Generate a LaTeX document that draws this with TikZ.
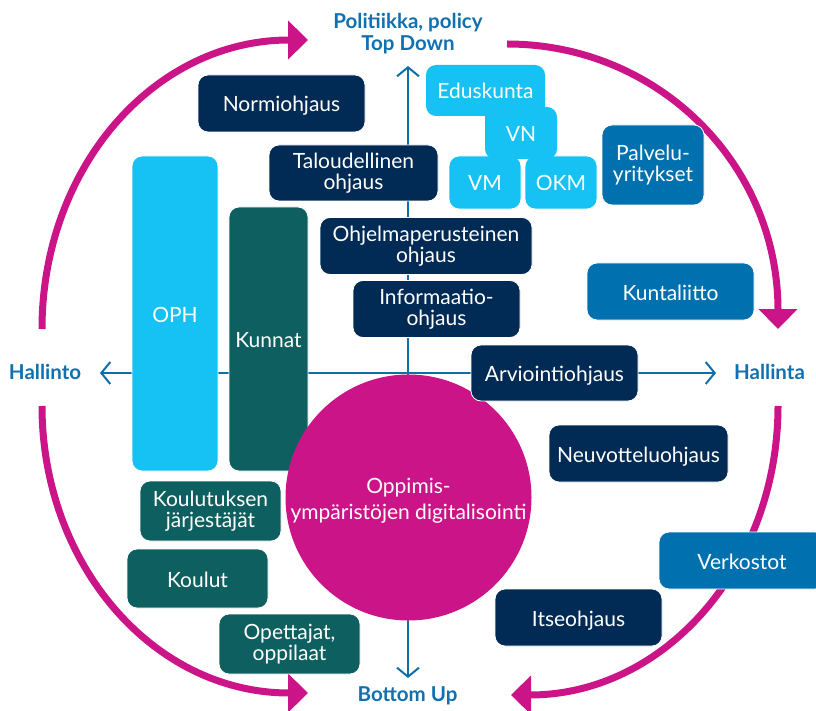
\documentclass[tikz,border=0pt]{standalone}
\usepackage{fontspec}
\setmainfont{Lato}
\usetikzlibrary{arrows.meta}
\definecolor{navy}{HTML}{012A55}
\definecolor{midblue}{HTML}{0071AE}
\definecolor{lightblue}{HTML}{16C1F3}
\definecolor{teal}{HTML}{0E6060}
\definecolor{mag}{HTML}{CC1489}
\definecolor{axisblue}{HTML}{0B6FAA}
\definecolor{labblue}{HTML}{1070B0}
\tikzset{
  box/.style={rounded corners=10pt, text=white, align=center, inner sep=0pt, draw=white, line width=0.8pt},
  oneline/.style={text height=17pt, text depth=0pt},
  navybox/.style={box, fill=navy},
  midbox/.style={box, fill=midblue},
  lightbox/.style={box, fill=lightblue},
  tealbox/.style={box, fill=teal},
  magarc/.style={draw=mag, line width=7pt, -{Triangle[length=20pt,width=38pt]}},
  axis/.style={draw=axisblue, line width=2pt, -{Straight Barb[length=9pt,width=22pt,line width=2pt]}},
  lab/.style={text=labblue, font=\fontsize{20.5}{22}\selectfont\bfseries, align=center, inner sep=0pt},
}
\begin{document}
\begin{tikzpicture}[x=1pt,y=-1pt, font=\fontsize{21}{21}\selectfont]
\useasboundingbox (0,0) rectangle (816,711);

% axes
\coordinate (ctr) at (408,373);
\coordinate (top) at (408,66);
\coordinate (bot) at (408,678);
\coordinate (lft) at (100,373);
\coordinate (rgt) at (716,373);
\draw[axis] (ctr) -- (top);
\draw[axis] (ctr) -- (bot);
\draw[axis] (ctr) -- (lft);
\draw[axis] (ctr) -- (rgt);

% magenta arcs
\coordinate (a1s) at (42,329);
\coordinate (a1e) at (308,40);
\coordinate (a2s) at (507,44);
\coordinate (a2e) at (778,329);
\coordinate (a3s) at (42,406);
\coordinate (a3e) at (308,693);
\coordinate (a4s) at (778,406);
\coordinate (a4e) at (511,695);
\draw[magarc] (a1s) .. controls (42,169) and (153,40) .. (a1e);
\draw[magarc] (a2s) .. controls (657,44) and (778,163) .. (a2e);
\draw[magarc] (a3s) .. controls (42,564) and (153,693) .. (a3e);
\draw[magarc] (a4s) .. controls (778,566) and (665,695) .. (a4e);

% labels
\node[lab] (pol) at (408,34) {Politiikka, policy\\Top Down};
\node[lab, text height=15pt, text depth=0pt] (hto) at (45,372) {Hallinto};
\node[lab, text height=15pt, text depth=0pt] (hta) at (769.5,372) {Hallinta};
\node[lab, text height=15pt, text depth=0pt] (bup) at (407.5,694) {Bottom Up};

% navy boxes
\node[navybox, oneline, minimum width=167pt, minimum height=57pt] (normi) at (281.5,103.5) {Normiohjaus};
\node[navybox, minimum width=169pt, minimum height=56pt] (talo) at (353.5,173) {Taloudellinen\\ohjaus};
\node[navybox, minimum width=212pt, minimum height=57pt] (ohj) at (426,246) {Ohjelmaperusteinen\\ohjaus};
\node[navybox, minimum width=167pt, minimum height=57pt] (info) at (436.5,309) {Informaatio-\\ohjaus};
\node[navybox, oneline, minimum width=179pt, minimum height=57pt] (neuv) at (638.5,453.5) {Neuvotteluohjaus};
\node[navybox, oneline, minimum width=167pt, minimum height=57pt] (itse) at (578.5,617.5) {Itseohjaus};

% mid blue boxes
\node[midbox, oneline, minimum width=166pt, minimum height=57pt] (verk) at (742,560.5) {Verkostot};
\node[midbox, oneline, minimum width=167pt, minimum height=57pt] (kunl) at (670.5,291.5) {Kuntaliitto};
\node[midbox, minimum width=102pt, minimum height=80pt] (palv) at (653,165) {Palvelu-\\yritykset};

% light blue boxes
\node[lightbox, oneline, minimum width=72pt, minimum height=53pt] (vm) at (485,182.5) {VM};
\node[lightbox, oneline, minimum width=72pt, minimum height=53pt] (okm) at (561,182.5) {OKM};
\node[lightbox, draw=none, minimum width=119pt, minimum height=51pt] (edu) at (485.5,90.5) {};
\node[lightbox, oneline, draw=none, minimum width=72pt, minimum height=52pt] (vn) at (521,133) {VN};
\node[text=white, inner sep=0pt, oneline] (edut) at (485.5,90.5) {Eduskunta};
\node[lightbox, oneline, minimum width=86pt, minimum height=315pt] (oph) at (175,313.5) {OPH};

% teal boxes
\node[tealbox, oneline, minimum width=79pt, minimum height=264pt] (kun) at (268.5,339) {Kunnat};
\node[tealbox, minimum width=141pt, minimum height=60pt] (kjar) at (210.5,511) {Koulutuksen\\järjestäjät};
\node[tealbox, oneline, minimum width=141pt, minimum height=59pt] (koul) at (197.5,578.5) {Koulut};
\node[tealbox, minimum width=141pt, minimum height=60pt] (opet) at (289.5,644) {Opettajat,\\oppilaat};

% circle
\node[circle, fill=mag, minimum size=246pt, inner sep=0pt] (circ) at (408.5,497.5) {};
\node[text=white, align=center, inner sep=0pt, font=\fontsize{21}{26}\selectfont] (circt) at (408.5,501) {Oppimis-\\ympäristöjen digitalisointi};

\node[navybox, oneline, minimum width=167pt, minimum height=56pt] (arvi) at (554.5,373) {Arviointiohjaus};
\end{tikzpicture}
\end{document}
